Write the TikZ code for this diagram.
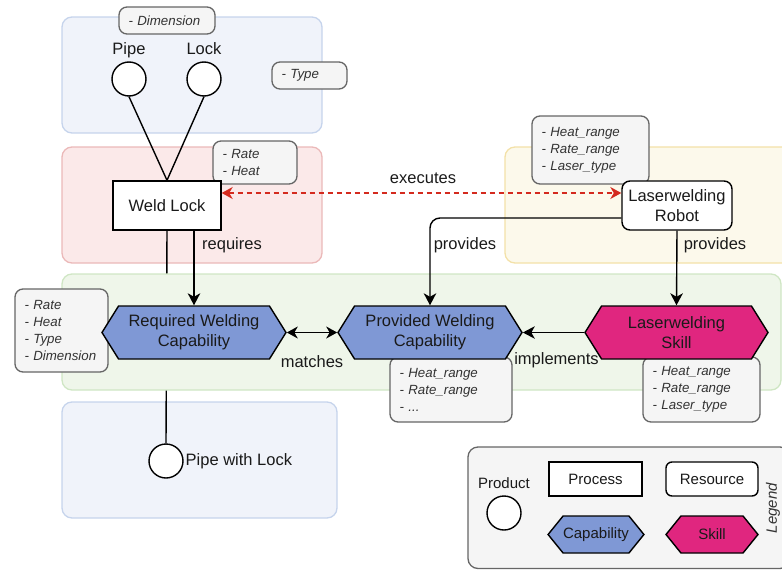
\documentclass[tikz,border=0pt]{standalone}
\usepackage{fontspec}
\setmainfont{Liberation Sans}
\usetikzlibrary{arrows.meta,shapes.symbols,calc}

\definecolor{ink}{HTML}{1A1A1A}
\definecolor{prodfill}{HTML}{F0F3FA}
\definecolor{prodline}{HTML}{C6D4EC}
\definecolor{procfill}{HTML}{FBE9E9}
\definecolor{procline}{HTML}{EBB9B9}
\definecolor{resfill}{HTML}{FCF9EB}
\definecolor{resline}{HTML}{F3E1A8}
\definecolor{capbandfill}{HTML}{EFF6EA}
\definecolor{capbandline}{HTML}{CFE6C4}
\definecolor{notefill}{HTML}{F5F5F5}
\definecolor{noteline}{HTML}{666666}
\definecolor{notetext}{HTML}{333333}
\definecolor{capfill}{HTML}{7F98D5}
\definecolor{skillfill}{HTML}{E0267F}
\definecolor{execred}{HTML}{D42A1E}

\pgfdeclarelayer{regions}
\pgfdeclarelayer{underlay}
\pgfdeclarelayer{band}
\pgfdeclarelayer{notes}
\pgfsetlayers{regions,underlay,band,notes,main}

\newcommand\mainsize{\fontsize{16.5pt}{20pt}\selectfont}
\newcommand\notesize{\fontsize{13.3pt}{17pt}\selectfont\itshape}
\newcommand\legendsize{\fontsize{15pt}{18pt}\selectfont}

\begin{document}
\begin{tikzpicture}[x=1pt,y=-1pt,
  region/.style={rounded corners=10pt, line width=1.3pt},
  note/.style={draw=noteline, fill=notefill, rounded corners=8pt, line width=1.3pt,
    text=notetext, font=\notesize, align=left, inner xsep=9.5pt, inner ysep=0pt},
  shapeline/.style={draw=black, line width=1.4pt, text=ink},
  product/.style={shapeline, circle, fill=white, minimum size=34pt, inner sep=0pt},
  process/.style={shapeline, rectangle, fill=white, inner sep=0pt},
  resource/.style={shapeline, rectangle, rounded corners=8pt, fill=white, inner sep=0pt},
  capability/.style={shapeline, signal, signal to=east and west, fill=capfill,
    inner sep=0pt, align=center},
  skill/.style={capability, fill=skillfill},
  conn/.style={draw=black, line width=1.4pt,
    -{Stealth[length=12pt,width=12.5pt,inset=3.5pt]}},
  bothconn/.style={line width=1.4pt,
    {Stealth[length=11pt,width=12pt,inset=3.5pt]}-{Stealth[length=11pt,width=12pt,inset=3.5pt]}},
  plain/.style={draw=black, line width=1.4pt},
  lbl/.style={font=\mainsize, text=ink, anchor=base, inner sep=0pt}
]
\useasboundingbox (0,0) rectangle (782,570);

% ---------- swim regions ----------
\begin{pgfonlayer}{regions}
  \draw[region, fill=prodfill, draw=prodline] (62,17) rectangle (322,133);
  \draw[region, fill=procfill, draw=procline] (62,147) rectangle (322,263);
  \draw[region, fill=resfill, draw=resline] (505,147) rectangle (800,263);
  \draw[region, fill=prodfill, draw=prodline] (62,402) rectangle (337,518);
\end{pgfonlayer}
\begin{pgfonlayer}{band}
  \draw[region, fill=capbandfill, draw=capbandline] (62,274) rectangle (781,390);
\end{pgfonlayer}

% ---------- attribute notes ----------
\begin{pgfonlayer}{notes}
  \node[note, minimum width=96pt, text width=77pt, minimum height=27pt] (dimnote) at (167,20.5) {- Dimension};
  \node[note, minimum width=75pt, text width=56pt, minimum height=27pt] (typenote) at (309.5,75.5) {- Type};
  \node[note, minimum width=84pt, text width=65pt, minimum height=43pt] (ratenote) at (255,162.5) {- Rate\\- Heat};
  \node[note, minimum width=117pt, text width=98pt, minimum height=68pt] (robotnote) at (590.5,150) {- Heat\_range\\- Rate\_range\\- Laser\_type};
  \node[note, minimum width=93pt, text width=74pt, minimum height=83pt] (reqnote) at (61.5,330.5) {- Rate\\- Heat\\- Type\\- Dimension};
  \node[note, minimum width=122pt, text width=103pt, minimum height=65pt] (provnote) at (451,389.5) {- Heat\_range\\- Rate\_range\\- ...};
  \node[note, minimum width=117pt, text width=98pt, minimum height=65pt] (skillnote) at (701.5,389.5) {- Heat\_range\\- Rate\_range\\- Laser\_type};
\end{pgfonlayer}

% ---------- products ----------
\node[product] (pipe) at (129,79) {};
\node[product] (lock) at (204,79) {};
\node[lbl] (pipelbl) at (129,54) {Pipe};
\node[lbl] (locklbl) at (204,54) {Lock};
\node[product] (pwl) at (166,461) {};
\node[font=\mainsize, text=ink, anchor=west, inner sep=0pt] (pwllbl) at (185.5,461) {Pipe with Lock};

% ---------- process and resource ----------
\node[process, minimum width=108pt, minimum height=49pt, font=\mainsize] (weld) at (167,205.5) {Weld Lock};
\node[resource, minimum width=110pt, minimum height=49pt, font=\mainsize, align=center] (robot) at (677,205.5) {Laserwelding\\Robot};

% ---------- capabilities and skill ----------
\node[capability, minimum width=184pt, minimum height=53pt, signal pointer angle=116, font=\mainsize] (req) at (194,332.5) {Required Welding\\Capability};
\node[capability, minimum width=184pt, minimum height=53pt, signal pointer angle=116, font=\mainsize] (prov) at (430,332.5) {Provided Welding\\Capability};
\node[skill, minimum width=183pt, minimum height=53pt, signal pointer angle=116, font=\mainsize] (lskill) at (676.5,332.5) {Laserwelding\\Skill};

% ---------- connectors ----------
\begin{pgfonlayer}{underlay}
  \draw[plain] (weld.south) -- (pwl.north);
\end{pgfonlayer}
\draw[plain] (pipe.south) -- (weld.north);
\draw[plain] (lock.south) -- (weld.north);
\draw[conn] (weld.south -| req.north) -- (req.north);
\draw[conn, rounded corners=10pt] ([yshift=-12.5pt]robot.west) -| (prov.north);
\draw[conn] (robot.south) -- (lskill.north);
\draw[bothconn, draw=black] (req.east) -- (prov.west);
\draw[conn] (lskill.west) -- (prov.east);
\draw[bothconn, draw=execred, dash pattern=on 5pt off 4pt]
  ([yshift=12.5pt]weld.east) -- ([yshift=12.5pt]robot.west);

% ---------- connector labels ----------
\node[lbl] (execlbl) at (423,183) {executes};
\node[lbl] (reqlbl) at (232,249) {requires};
\node[lbl] (provlbl) at (465,249) {provides};
\node[lbl] (provlbl2) at (715,249) {provides};
\node[lbl] (matchlbl) at (312,367) {matches};
\node[lbl] (impllbl) at (556.5,364) {implements};

% ---------- legend ----------
\node[draw=noteline, fill=notefill, rounded corners=10pt, line width=1.3pt,
  minimum width=322pt, minimum height=121.5pt, inner sep=0pt] (legend) at (629,507.75) {};
\node[font=\legendsize\itshape, text=notetext, rotate=90, inner sep=0pt] (legendtitle) at (773,508) {Legend};
\node[font=\legendsize, text=ink, anchor=base, inner sep=0pt] (prodlbl) at (504,488) {Product};
\node[product] (legprod) at (504,513) {};
\node[process, minimum width=93pt, minimum height=34pt, font=\legendsize] (legproc) at (595.5,479) {Process};
\node[resource, rounded corners=6pt, minimum width=92pt, minimum height=34pt, font=\legendsize] (legres) at (712,479) {Resource};
\node[capability, minimum width=92pt, minimum height=37pt, signal pointer angle=102, font=\legendsize] (legcap) at (596,534.5) {Capability};
\node[skill, minimum width=92pt, minimum height=37pt, signal pointer angle=102, font=\legendsize] (legskill) at (712,534.5) {Skill};
\end{tikzpicture}
\end{document}
